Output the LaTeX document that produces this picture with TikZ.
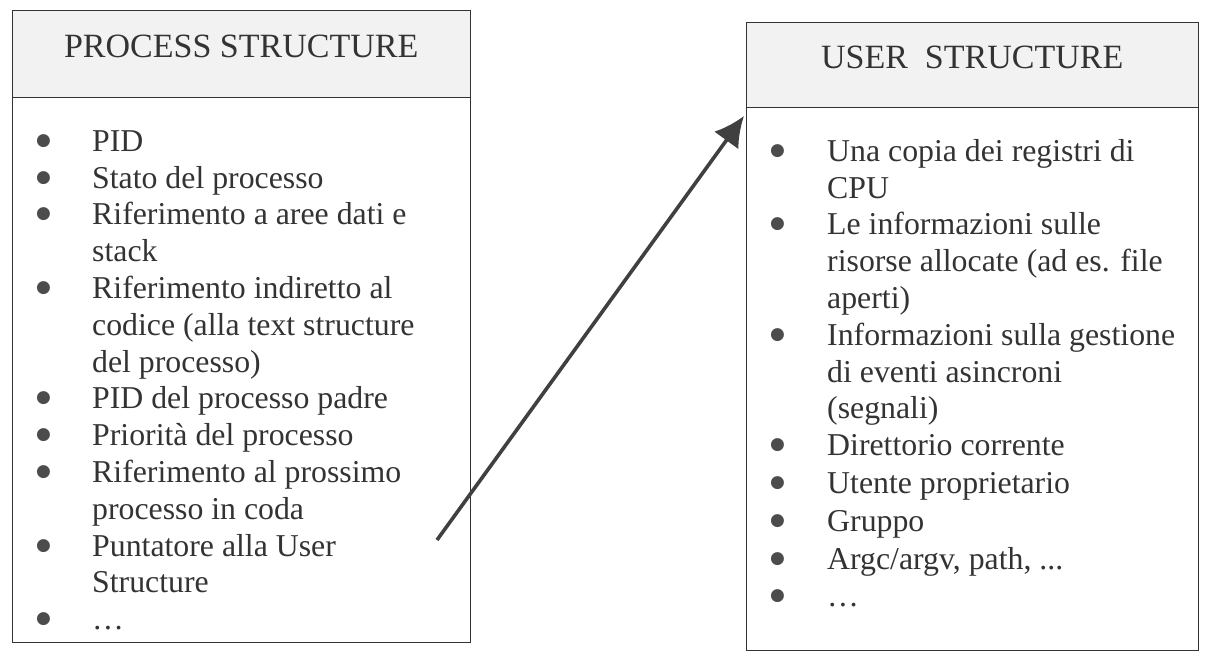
\documentclass[tikz,border=0pt]{standalone}
\usepackage{fontspec}
\setmainfont{Liberation Serif}
\newfontfamily\dotfont{DejaVu Sans}
\usetikzlibrary{positioning,arrows.meta}

\tikzset{
  head/.style={draw=black!80, fill=gray!10, minimum width=458pt, minimum height=87pt,
    inner sep=0pt, text height=23pt, text depth=16pt,
    font=\fontsize{34}{36}\selectfont, text=black!80},
  body/.style={draw=black!80, minimum width=458pt, inner sep=0pt},
  list/.style={inner sep=0pt, anchor=north west, font=\fontsize{31.8}{36.8}\selectfont, text=black!80},
  pointer/.style={-{Latex[length=30pt,width=30pt]}, line width=3.6pt, draw=black!75}
}
\newcommand{\bul}{\raisebox{6pt}{\dotfont\fontsize{17}{17}\selectfont\color{black!70}●}}

\begin{document}
\begin{tikzpicture}[x=1pt,y=-1pt]
\useasboundingbox (0,0) rectangle (1223,668);

% process structure
\node[head, anchor=north west] (ph) at (12,10) {PROCESS STRUCTURE};
\node[body, below=0pt of ph, minimum height=545pt] (pb) {};
\node[list] (pl) at ([xshift=24pt,yshift=-28pt]pb.north west) {%
\begin{tabular}{@{}p{56pt}@{}l@{}}
\bul & PID\\
\bul & Stato del processo\\
\bul & Riferimento a aree dati e\\
     & stack\\
\bul & Riferimento indiretto al\\
     & codice (alla text structure\\
     & del processo)\\
\bul & PID del processo padre\\
\bul & Priorità del processo\\
\bul & Riferimento al prossimo\\
     & processo in coda\\
\bul & Puntatore alla User\\
     & Structure\\
\bul & \ldots
\end{tabular}};

% user structure
\node[head, anchor=north west, minimum width=452pt, minimum height=85pt] (uh) at (746,22) {USER\ \ STRUCTURE};
\node[body, below=0pt of uh, minimum width=452pt, minimum height=543pt] (ub) {};
\node[list] (ul) at ([xshift=24pt,yshift=-28pt]ub.north west) {%
\begin{tabular}{@{}p{57pt}@{}l@{}}
\bul & Una copia dei registri di\\
     & CPU\\
\bul & Le informazioni sulle\\
     & risorse allocate (ad es. file\\
     & aperti)\\
\bul & Informazioni sulla gestione\\
     & di eventi asincroni\\
     & (segnali)\\
\bul & Direttorio corrente\\[1pt]
\bul & Utente proprietario\\[1pt]
\bul & Gruppo\\[1pt]
\bul & Argc/argv, path, ...\\[1pt]
\bul & \ldots
\end{tabular}};

\coordinate (from) at (437,540);
\coordinate (to) at (744,116);
\draw[pointer] (from) -- (to);
\end{tikzpicture}
\end{document}
